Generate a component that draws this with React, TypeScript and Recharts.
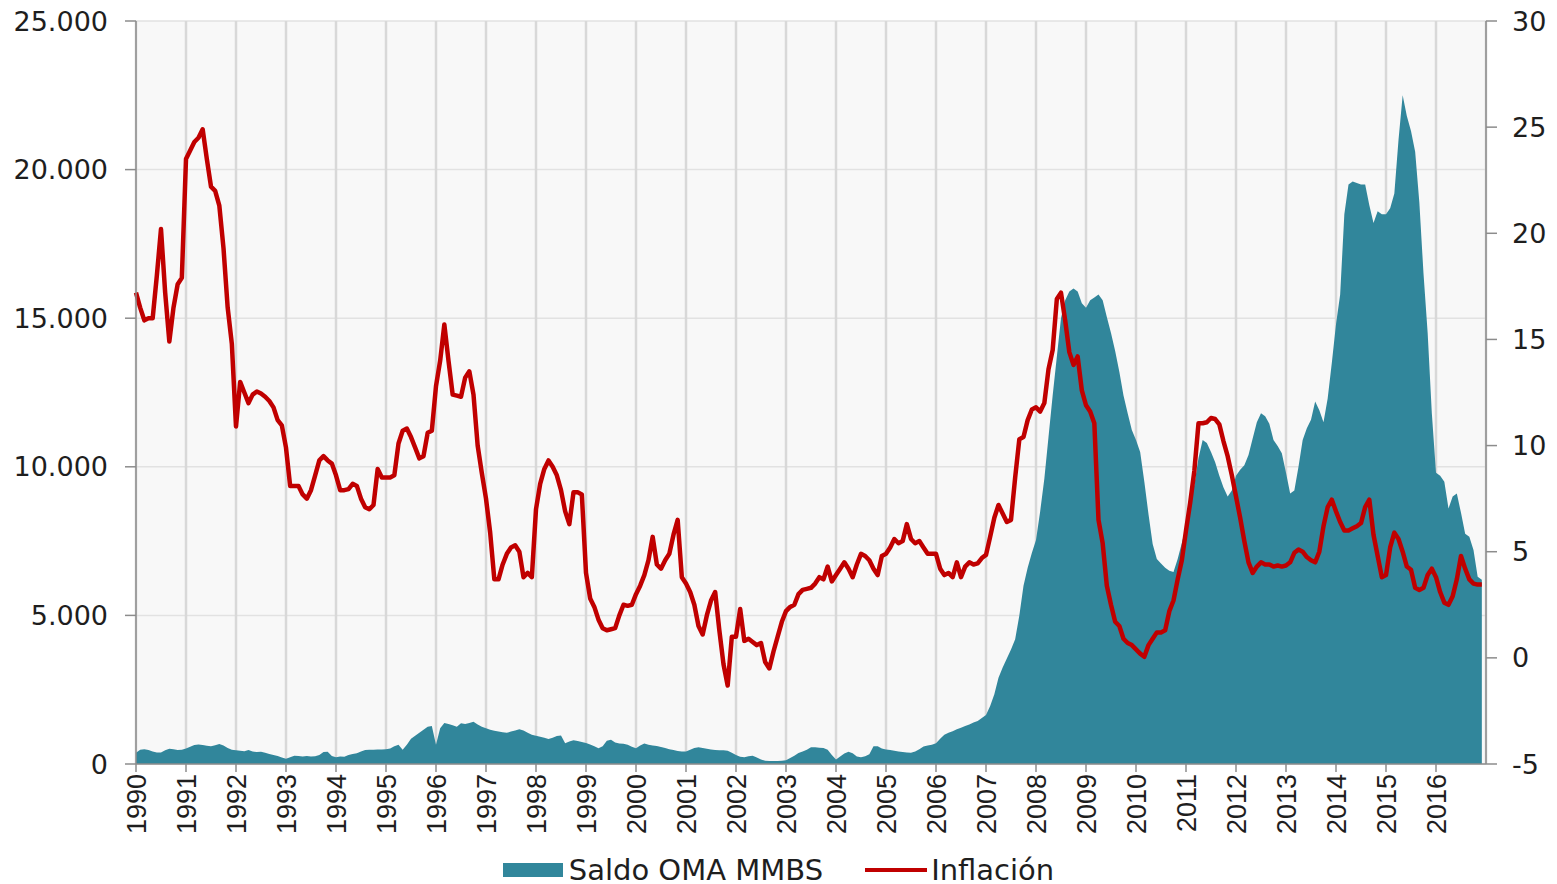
import React from "react";
import {
  ComposedChart,
  Area,
  Line,
  XAxis,
  YAxis,
  CartesianGrid,
  Legend,
} from "recharts";

const TEAL = "#31869b";
const RED = "#c00000";
const AXIS = "#8c8c8c";

// first year on the axis, one tick per January
const START_YEAR = 1990;
const yearTicks = [
  0, 12, 24, 36, 48, 60, 72, 84, 96, 108, 120, 132, 144, 156, 168, 180, 192,
  204, 216, 228, 240, 252, 264, 276, 288, 300, 312,
];
const leftTicks = [0, 5000, 10000, 15000, 20000, 25000];
const rightTicks = [-5, 0, 5, 10, 15, 20, 25, 30];

// Saldo OMA, MM de Bs, monthly 1990-2016 (one row per year)
const saldoOMA = [
  380, 480, 500, 470, 420, 390, 390, 460, 510, 500, 470, 480,
  520, 580, 640, 660, 640, 610, 600, 630, 670, 620, 540, 480,
  460, 450, 430, 470, 420, 400, 410, 380, 340, 300, 270, 220,
  180, 230, 280, 270, 250, 270, 250, 260, 300, 400, 410, 270,
  230, 250, 240, 300, 340, 360, 420, 470, 480, 480, 490, 490,
  500, 520, 600, 650, 480, 650, 850, 950, 1050, 1150, 1250, 1280,
  650, 1200, 1380, 1350, 1300, 1250, 1370, 1350, 1380, 1420, 1330, 1250,
  1200, 1150, 1120, 1090, 1070, 1050, 1090, 1130, 1170, 1130, 1050, 980,
  950, 920, 880, 840, 880, 940, 960, 700, 760, 800, 770, 740,
  710, 660, 600, 530, 600, 780, 820, 720, 690, 680, 650, 580,
  530, 620, 690, 650, 620, 605, 570, 540, 500, 470, 440, 420,
  420, 480, 540, 560, 540, 510, 490, 470, 460, 460, 450, 380,
  300, 240, 230, 260, 280, 220, 150, 110, 100, 100, 100, 110,
  130, 200, 280, 370, 420, 480, 560, 560, 550, 540, 480, 300,
  150, 250, 350, 410, 360, 250, 230, 260, 330, 600, 600, 520,
  490, 470, 450, 420, 400, 385, 380, 420, 500, 590, 620, 650,
  700, 850, 980, 1050, 1100, 1170, 1220, 1280, 1330, 1400, 1450, 1550,
  1650, 1950, 2350, 2900, 3250, 3550, 3850, 4200, 5000, 6000, 6600, 7100,
  7540, 8500, 9600, 11000, 12400, 13700, 15000, 15600, 15900, 16000, 15900, 15500,
  15350, 15600, 15700, 15800, 15600, 15040, 14500, 13900, 13200, 12400, 11800, 11240,
  10900, 10500, 9500, 8400, 7400, 6900, 6750, 6600, 6500, 6460, 6900, 7440,
  8000, 8800, 9400, 10300, 10900, 10800, 10500, 10150, 9700, 9300, 9000, 9200,
  9700, 9900, 10050, 10400, 10950, 11500, 11800, 11700, 11450, 10900, 10700, 10460,
  9800, 9100, 9200, 10000, 10900, 11300, 11580, 12200, 11900, 11500, 12300, 13500,
  14800, 15800, 18500, 19500, 19600, 19550, 19500, 19500, 18800, 18200, 18600, 18500,
  18500, 18700, 19200, 21000, 22500, 21800, 21300, 20600, 18900, 16500, 14500, 11800,
  9800, 9700, 9500, 8600, 9000, 9100, 8450, 7750, 7650, 7200, 6300, 6200,
];

// Inflacion, %, monthly 1990-2016
const inflacion = [
  17.2, 16.5, 15.9, 16.0, 16.0, 18.0, 20.2, 17.2, 14.9, 16.5, 17.6, 17.9,
  23.5, 23.9, 24.3, 24.5, 24.9, 23.5, 22.2, 22.0, 21.3, 19.3, 16.5, 14.8,
  10.9, 13.0, 12.5, 12.0, 12.4, 12.55, 12.45, 12.3, 12.1, 11.8, 11.2, 10.95,
  9.9, 8.1, 8.1, 8.1, 7.7, 7.5, 7.9, 8.6, 9.3, 9.5, 9.3, 9.15,
  8.6, 7.9, 7.9, 7.95, 8.2, 8.1, 7.5, 7.1, 7.0, 7.2, 8.9, 8.5,
  8.5, 8.5, 8.6, 10.1, 10.7, 10.8, 10.4, 9.9, 9.4, 9.5, 10.6, 10.7,
  12.8, 14.0, 15.7, 14.0, 12.4, 12.35, 12.3, 13.2, 13.5, 12.4, 10.0, 8.7,
  7.5, 5.9, 3.7, 3.7, 4.4, 4.9, 5.2, 5.3, 5.0, 3.8, 4.0, 3.8,
  7.0, 8.2, 8.9, 9.3, 9.0, 8.6, 7.9, 6.9, 6.3, 7.8, 7.8, 7.7,
  4.0, 2.8, 2.4, 1.8, 1.4, 1.3, 1.35, 1.4, 2.0, 2.5, 2.45, 2.5,
  3.0, 3.4, 3.9, 4.6, 5.7, 4.4, 4.2, 4.6, 4.9, 5.8, 6.5, 3.8,
  3.5, 3.1, 2.5, 1.5, 1.1, 2.0, 2.7, 3.1, 1.3, -0.3, -1.3, 1.0,
  1.0, 2.3, 0.8, 0.9, 0.75, 0.6, 0.7, -0.2, -0.5, 0.3, 1.0, 1.7,
  2.2, 2.4, 2.5, 3.0, 3.2, 3.25, 3.3, 3.5, 3.8, 3.7, 4.3, 3.6,
  3.9, 4.2, 4.5, 4.2, 3.8, 4.4, 4.9, 4.8, 4.6, 4.2, 3.9, 4.8,
  4.9, 5.2, 5.6, 5.4, 5.5, 6.3, 5.6, 5.4, 5.5, 5.2, 4.9, 4.9,
  4.9, 4.2, 3.9, 4.0, 3.8, 4.5, 3.8, 4.3, 4.5, 4.4, 4.45, 4.7,
  4.85, 5.7, 6.6, 7.2, 6.8, 6.4, 6.5, 8.5, 10.3, 10.4, 11.2, 11.7,
  11.8, 11.6, 12.0, 13.6, 14.5, 16.9, 17.2, 15.9, 14.4, 13.8, 14.2, 12.6,
  11.9, 11.6, 11.05, 6.5, 5.4, 3.4, 2.5, 1.7, 1.5, 0.9, 0.7, 0.6,
  0.4, 0.2, 0.05, 0.6, 0.9, 1.2, 1.2, 1.3, 2.2, 2.7, 3.7, 4.6,
  6.0, 7.3, 8.8, 11.05, 11.05, 11.1, 11.3, 11.25, 11.0, 10.2, 9.5, 8.6,
  7.6, 6.6, 5.5, 4.5, 4.0, 4.3, 4.5, 4.4, 4.4, 4.3, 4.35, 4.3,
  4.35, 4.5, 4.95, 5.1, 5.0, 4.75, 4.6, 4.5, 5.0, 6.2, 7.1, 7.45,
  6.9, 6.4, 6.0, 6.0, 6.1, 6.2, 6.35, 7.1, 7.45, 5.8, 4.8, 3.8,
  3.9, 5.2, 5.9, 5.6, 5.0, 4.3, 4.15, 3.3, 3.2, 3.3, 3.9, 4.2,
  3.8, 3.1, 2.6, 2.5, 2.9, 3.7, 4.8, 4.2, 3.7, 3.5, 3.45, 3.45,
];

const data = saldoOMA.map((v, i) => ({ m: i, saldo: v, inflacion: inflacion[i] }));

const fmtThousands = (v: number) =>
  v === 0 ? "0" : String(v).replace(/\B(?=(\d{3})+(?!\d))/g, ".");

const YearTick = (props: any) => {
  const { x, y, payload } = props;
  return (
    <text
      x={x + 1}
      y={y}
      transform={`rotate(-90 ${x + 1} ${y})`}
      textAnchor="end"
      dominantBaseline="central"
      fontFamily="Liberation Sans, Arial, sans-serif"
      fontSize={27}
      fill="#1e1e1e"
    >
      {START_YEAR + payload.value / 12}
    </text>
  );
};

const renderLegend = () => (
  <div
    style={{
      display: "flex",
      justifyContent: "center",
      alignItems: "center",
      height: 28,
      fontFamily: "DejaVu Sans, sans-serif",
      fontSize: 29,
      color: "#1e1e1e",
      lineHeight: "28px",
    }}
  >
    <span style={{ display: "inline-block", width: 60, height: 14, background: TEAL, marginRight: 6 }} />
    <span>Saldo OMA MMBS</span>
    <span style={{ display: "inline-block", width: 62, height: 4, background: RED, marginLeft: 42, marginRight: 4 }} />
    <span>Inflación</span>
  </div>
);

export default function App() {
  const tickFont = { fontSize: 27, fontFamily: "DejaVu Sans, sans-serif", fill: "#1e1e1e" };
  return (
    <div style={{ position: "absolute", left: 0, top: 0, width: 1557, height: 884, background: "#fff" }}>
      <ComposedChart
        width={1557}
        height={884}
        data={data}
        margin={{ top: 21, right: 0, left: 0, bottom: 0 }}
      >
        <CartesianGrid
          yAxisId="left"
          vertical={false}
          stroke="#e2e2e2"
          strokeWidth={1.5}
          fill="#f8f8f8"
        />
        <CartesianGrid
          yAxisId="left"
          horizontal={false}
          stroke="#d8d8d8"
          strokeWidth={2.5}
        />
        <XAxis
          dataKey="m"
          type="number"
          domain={[0, 324]}
          ticks={yearTicks}
          interval={0}
          height={92}
          tickSize={8}
          tickMargin={2}
          tick={<YearTick />}
          axisLine={{ stroke: AXIS, strokeWidth: 1.5 }}
          tickLine={{ stroke: AXIS, strokeWidth: 1.5 }}
        />
        <YAxis
          yAxisId="left"
          domain={[0, 25000]}
          ticks={leftTicks}
          interval={0}
          width={136}
          tickSize={11}
          tickMargin={17}
          tickFormatter={fmtThousands}
          tick={tickFont}
          axisLine={{ stroke: AXIS, strokeWidth: 1.5 }}
          tickLine={{ stroke: AXIS, strokeWidth: 1.5 }}
        />
        <YAxis
          yAxisId="right"
          orientation="right"
          domain={[-5, 30]}
          ticks={rightTicks}
          interval={0}
          width={71}
          tickSize={11}
          tickMargin={15}
          tick={{ ...tickFont, textAnchor: "start" }}
          axisLine={{ stroke: AXIS, strokeWidth: 1.5 }}
          tickLine={{ stroke: AXIS, strokeWidth: 1.5 }}
        />
        <Area
          yAxisId="left"
          type="linear"
          dataKey="saldo"
          name="Saldo OMA MMBS"
          stroke="none"
          fill={TEAL}
          fillOpacity={1}
          isAnimationActive={false}
        />
        <Line
          yAxisId="right"
          type="linear"
          dataKey="inflacion"
          name="Inflación"
          stroke={RED}
          strokeWidth={4.5}
          strokeLinejoin="round"
          dot={false}
          activeDot={false}
          isAnimationActive={false}
        />
        <Legend verticalAlign="bottom" align="center" height={28} content={renderLegend} />
      </ComposedChart>
    </div>
  );
}
